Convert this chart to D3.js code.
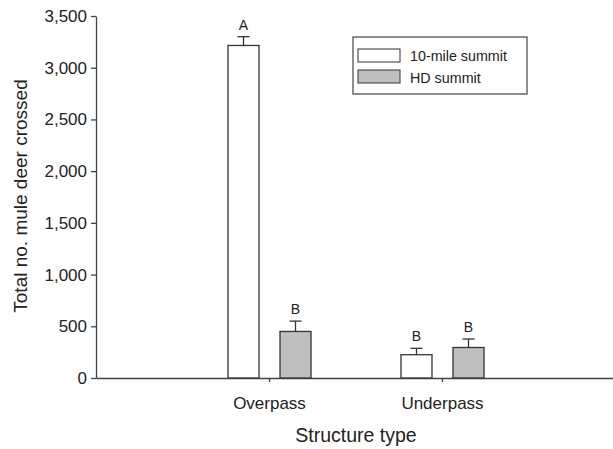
<!DOCTYPE html>
<html>
<head>
<meta charset="utf-8">
<script src="https://cdn.jsdelivr.net/npm/d3@7"></script>
<style>
  body { margin: 0; background: #fff; }
  svg { font-family: Arial, "Liberation Sans", sans-serif; }
</style>
</head>
<body>
<div class="chart"></div>
<script>
// data
const structures = ["Overpass", "Underpass"];
const sites = ["10-mile summit", "HD summit"];
const means = [[3215, 450], [225, 295]];   // [structure][site]
const errors = [[85, 100], [62, 82]];
const letters = [["A", "B"], ["B", "B"]];
const yTicks = [0, 500, 1000, 1500, 2000, 2500, 3000, 3500];
const siteFill = ["#ffffff", "#bfbfbf"];

const width = 613, height = 449;
const svg = d3.select(".chart").append("svg")
  .attr("width", width).attr("height", height);

const x = d3.scalePoint().domain(structures).range([96, 615]).padding(1);
const y = d3.scaleLinear().domain([0, 3500]).range([378, 16]);
const off = d3.scaleBand().domain(sites).range([-41, 42]).paddingInner(0.404);

// y axis
const yAxis = svg.append("g")
  .attr("transform", "translate(96,0)")
  .call(d3.axisLeft(y).tickValues(yTicks).tickSize(5).tickSizeOuter(0)
    .tickFormat(d3.format(",")));
yAxis.selectAll("text").attr("font-size", 17).attr("fill", "#222").attr("dx", "-1");
yAxis.selectAll("line, path").attr("stroke", "#444").attr("stroke-width", 1.3);

// x axis
const xAxis = svg.append("g")
  .attr("transform", "translate(0,378)")
  .call(d3.axisBottom(x).tickSize(4).tickSizeOuter(0));
xAxis.selectAll("text").attr("font-size", 17).attr("fill", "#222")
  .attr("y", 31).attr("dy", 0);
xAxis.selectAll("line, path").attr("stroke", "#444").attr("stroke-width", 1.3);

// bars
const rows = [];
structures.forEach((s, i) => sites.forEach((t, j) => rows.push({
  s, t, j, v: means[i][j], e: errors[i][j], l: letters[i][j]
})));

const g = svg.append("g");
g.selectAll(".err").data(rows).join("g").attr("class", "err")
  .each(function (d) {
    const cx = x(d.s) + off(d.t) + off.bandwidth() / 2;
    const sel = d3.select(this);
    sel.append("line").attr("x1", cx).attr("x2", cx)
      .attr("y1", y(d.v)).attr("y2", y(d.v + d.e));
    sel.append("line").attr("x1", cx - 6).attr("x2", cx + 6)
      .attr("y1", y(d.v + d.e)).attr("y2", y(d.v + d.e));
    sel.selectAll("line").attr("stroke", "#333").attr("stroke-width", 1.3);
    sel.append("text").attr("x", cx).attr("y", y(d.v + d.e) - 7)
      .attr("text-anchor", "middle").attr("font-size", 14).attr("fill", "#222")
      .text(d.l);
  });

g.selectAll(".bar").data(rows).join("rect").attr("class", "bar")
  .attr("x", d => x(d.s) + off(d.t))
  .attr("width", off.bandwidth())
  .attr("y", d => y(d.v))
  .attr("height", d => y(0) - y(d.v))
  .attr("fill", d => siteFill[d.j])
  .attr("stroke", "#333").attr("stroke-width", 1.3);

// legend
const leg = svg.append("g").attr("transform", "translate(353,37)");
leg.append("rect").attr("width", 174).attr("height", 57)
  .attr("fill", "#fff").attr("stroke", "#444").attr("stroke-width", 1.2);
sites.forEach((t, j) => {
  leg.append("rect").attr("x", 5).attr("y", 12 + j * 21).attr("width", 42).attr("height", 13)
    .attr("fill", siteFill[j]).attr("stroke", "#444").attr("stroke-width", 1.1);
  leg.append("text").attr("x", 57).attr("y", 24 + j * 21.5)
    .attr("font-size", 14.3).attr("fill", "#222").text(t);
});

// axis titles
svg.append("text").attr("x", 356).attr("y", 442).attr("text-anchor", "middle")
  .attr("font-size", 19.5).attr("fill", "#222").text("Structure type");
svg.append("text").attr("transform", "translate(27,196) rotate(-90)")
  .attr("text-anchor", "middle").attr("font-size", 19).attr("fill", "#222")
  .text("Total no. mule deer crossed");
</script>
</body>
</html>
